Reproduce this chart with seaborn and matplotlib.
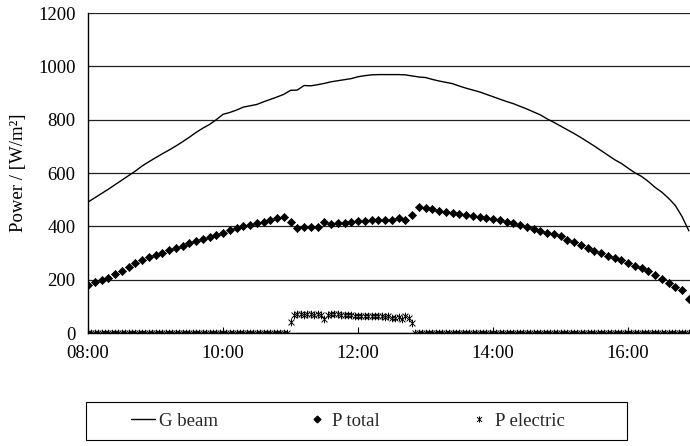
import numpy as np
import pandas as pd
import matplotlib
matplotlib.use("Agg")
import matplotlib.pyplot as plt
import matplotlib.dates as mdates
from matplotlib.path import Path
from matplotlib.lines import Line2D
from matplotlib.patches import Rectangle
import seaborn as sns

start_time = "2000-01-01 08:00"
end_time = "2000-01-01 16:55"
tick_hours = [8, 10, 12, 14, 16]
y_ticks = [0, 200, 400, 600, 800, 1000, 1200]
series_names = ["G beam", "P total", "P electric"]

# G beam, every 6 minutes from 08:00
g_beam = [491, 507, 523, 539, 556, 573, 590, 607, 626, 642,
          657, 672, 686, 701, 717, 734, 752, 768, 782, 800,
          820, 827, 836, 847, 852, 857, 867, 876, 885, 895,
          910, 911, 928, 927, 931, 936, 942, 946, 950, 954,
          961, 965, 968, 969, 969, 969, 969, 968, 964, 960,
          958, 951, 945, 940, 935, 926, 918, 911, 904, 895,
          886, 877, 868, 860, 850, 840, 829, 818, 803, 790,
          776, 762, 748, 733, 717, 701, 684, 667, 650, 636,
          618, 601, 587, 568, 546, 528, 505, 478, 436, 383]

# P total, every 6 minutes from 08:00
p_total = [180, 191, 199, 208, 220, 234, 247, 261, 273, 284,
           292, 300, 310, 318, 327, 336, 344, 351, 359, 367,
           375, 386, 393, 401, 406, 413, 418, 424, 430, 434,
           416, 393, 396, 397, 399, 418, 410, 412, 414, 416,
           420, 421, 422, 422, 424, 422, 431, 422, 444, 472,
           469, 464, 458, 454, 449, 445, 441, 438, 435, 433,
           426, 423, 418, 412, 406, 398, 391, 383, 375, 371,
           362, 350, 340, 330, 318, 307, 299, 290, 280, 272,
           264, 252, 242, 231, 219, 202, 189, 173, 160, 129]

# P electric, every 3 minutes from 08:00
p_electric_morning = [0, 0, 0, 0, 0, 0, 0, 0, 0, 0,
                      0, 0, 0, 0, 0, 0, 0, 0, 0, 0,
                      0, 0, 0, 0, 0, 0, 0, 0, 0, 0,
                      0, 0, 0, 0, 0, 0, 0, 0, 0, 0,
                      0, 0, 0, 0, 0, 0, 0, 0, 0, 0,
                      0, 0, 0, 0, 0, 0, 0, 0, 0, 0]
p_electric_midday = [40, 66, 70, 70, 69, 70, 70, 68, 70, 68,
                     52, 66, 70, 71, 70, 69, 68, 67, 66, 65,
                     64, 64, 63, 63, 63, 62, 62, 62, 61, 62,
                     58, 56, 60, 52, 62, 55, 38]
p_electric_afternoon = [0, 0, 0, 0, 0, 0, 0, 0, 0, 0,
                        0, 0, 0, 0, 0, 0, 0, 0, 0, 0,
                        0, 0, 0, 0, 0, 0, 0, 0, 0, 0,
                        0, 0, 0, 0, 0, 0, 0, 0, 0, 0,
                        0, 0, 0, 0, 0, 0, 0, 0, 0, 0,
                        0, 0, 0, 0, 0, 0, 0, 0, 0, 0,
                        0, 0, 0, 0, 0, 0, 0, 0, 0, 0,
                        0, 0, 0, 0, 0, 0, 0, 0, 0, 0,
                        0, 0]
p_electric = p_electric_morning + p_electric_midday + p_electric_afternoon

t6 = pd.date_range(start_time, periods=len(g_beam), freq="6min")
t3 = pd.date_range(start_time, periods=len(p_electric), freq="3min")
df6 = pd.DataFrame({"time": t6, "G beam": g_beam, "P total": p_total})
df3 = pd.DataFrame({"time": t3, "P electric": p_electric})

sns.set_theme(style="white")
plt.rcParams["font.family"] = ["Liberation Serif", "DejaVu Serif"]
plt.rcParams["font.size"] = 13.5

fig = plt.figure(figsize=(6.9, 4.46), dpi=100)
ax = fig.add_axes([88 / 690, 1 - 333 / 446, 1 - 88 / 690, (333 - 13) / 446])

star = Path([(-1, -1), (1, 1), (-1, 1), (1, -1), (0, -1.3), (0, 1.3)],
            [Path.MOVETO, Path.LINETO, Path.MOVETO, Path.LINETO, Path.MOVETO, Path.LINETO])

sns.lineplot(data=df6, x="time", y="G beam", color="black", linewidth=1.0, ax=ax, zorder=3)
sns.scatterplot(data=df6, x="time", y="P total", marker="D", s=17, color="black",
                edgecolor="black", linewidth=0.5, ax=ax, zorder=4)
sns.scatterplot(data=df3, x="time", y="P electric", marker=star, s=30, color="black",
                edgecolor="black", linewidth=0.7, ax=ax, zorder=4)

ax.set_xlim(pd.Timestamp(start_time), pd.Timestamp(end_time))
ax.set_ylim(0, 1200)
ax.set_yticks(y_ticks)
ax.xaxis.set_major_locator(mdates.HourLocator(byhour=tick_hours))
ax.xaxis.set_major_formatter(mdates.DateFormatter("%H:%M"))
ax.grid(axis="y", color="#222222", linewidth=0.9)
ax.set_axisbelow(True)
for side in ["right", "top"]:
    ax.spines[side].set_visible(False)
for side in ["left", "bottom"]:
    ax.spines[side].set_color("black")
    ax.spines[side].set_linewidth(1.0)
ax.tick_params(axis="x", direction="in", length=4, width=0.8, color="black",
               pad=9, labelsize=13.5, labelcolor="black", bottom=True)
ax.tick_params(axis="y", length=0, pad=9, labelsize=13.5, labelcolor="black")
ax.set_xlabel("")
ax.set_ylabel("Power / [W/m²]", fontsize=13.5, color="black", labelpad=8)

# legend box
fig.patches.append(Rectangle((86 / 690, 1 - 440 / 446), (627 - 86) / 690, 38 / 446,
                             transform=fig.transFigure, fill=False,
                             edgecolor="black", linewidth=0.8))
handles = [
    Line2D([], [], color="black", linewidth=1.0),
    Line2D([], [], color="black", marker="D", markersize=3.4, linestyle=""),
    Line2D([], [], color="black", marker=star, markersize=4.5, markeredgewidth=0.7, linestyle=""),
]
leg = fig.legend(handles, series_names, ncol=3, loc="center left",
                 bbox_to_anchor=(131 / 690, 1 - 421 / 446),
                 frameon=False, fontsize=13.5, handlelength=1.3, handletextpad=0.2,
                 columnspacing=4.6, borderaxespad=0, borderpad=0)

fig.savefig("out.png", dpi=100)
